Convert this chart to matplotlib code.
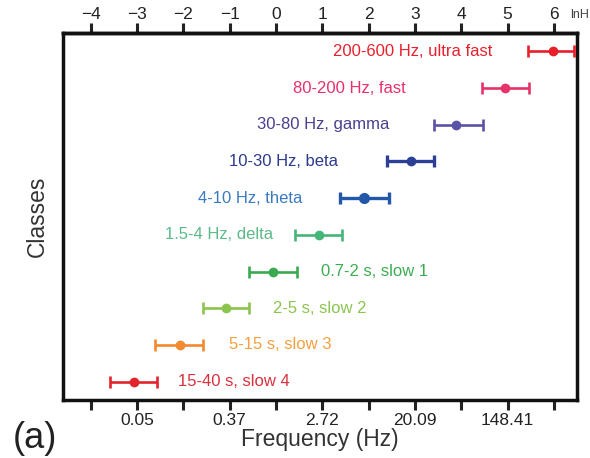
import numpy as np
import matplotlib
matplotlib.use("Agg")
import matplotlib.pyplot as plt

plt.rcParams['font.family'] = ['Liberation Sans', 'DejaVu Sans']

# Classes, bottom to top
labels = ["15-40 s, slow 4", "5-15 s, slow 3", "2-5 s, slow 2", "0.7-2 s, slow 1",
          "1.5-4 Hz, delta", "4-10 Hz, theta", "10-30 Hz, beta", "30-80 Hz, gamma",
          "80-200 Hz, fast", "200-600 Hz, ultra fast"]
# values in ln(Hz)
centers = [-3.07, -2.07, -1.08, -0.06, 0.93, 1.90, 2.92, 3.89, 4.95, 5.98]
lows    = [-3.59, -2.61, -1.58, -0.58, 0.41, 1.38, 2.40, 3.41, 4.45, 5.44]
highs   = [-2.57, -1.58, -0.58, 0.45, 1.43, 2.44, 3.41, 4.47, 5.46, 6.44]
colors  = ["#e2242c", "#f28a30", "#8cc44e", "#3aaa52", "#45b578", "#2358a8",
           "#2c3f96", "#5a52a6", "#e6336a", "#e8202c"]
text_colors = ["#d9303c", "#f2a040", "#8cc450", "#3cac52", "#5cba88", "#3a7ac0",
               "#2d3a8c", "#4a4090", "#e8306a", "#e8202c"]
# label anchor (ln units) and side
label_x = [-2.12, -1.01, -0.06, 0.97, -0.06, 0.56, 1.34, 2.44, 2.81, 4.67]
label_side = ["left", "left", "left", "left", "right", "right", "right", "right", "right", "right"]

ln_ticks = [-4, -3, -2, -1, 0, 1, 2, 3, 4, 5, 6]
freq_ticks = [-3, -1, 1, 3, 5]

fig = plt.figure(figsize=(5.9, 4.58), dpi=100)
ax = fig.add_axes([0.1068, 0.1266, 0.8712, 0.8014])

ypos = np.arange(1, len(labels) + 1)
for i in range(len(labels)):
    c = centers[i]
    ms = 7 if i == 5 else 6
    lw = 2.4 if i in (5, 6) else 1.9
    ax.errorbar([c], [ypos[i]], xerr=[[c - lows[i]], [highs[i] - c]],
                fmt='o', color=colors[i], ms=ms, elinewidth=lw, capsize=4.5,
                capthick=lw, clip_on=False, zorder=3)
    ax.text(label_x[i], ypos[i], labels[i], color=text_colors[i], fontsize=12,
            ha=label_side[i], va='center')

ax.set_xlim(-4.6, 6.5)
ax.set_ylim(0.5, 10.5)
ax.set_yticks([])
ax.set_ylabel("Classes", fontsize=16.5, color="#333333", labelpad=10)

ax.set_xticks(ln_ticks)
ax.set_xticklabels([f"{np.exp(t):.2f}" if t in freq_ticks else "" for t in ln_ticks])
ax.tick_params(axis='x', direction='out', length=7, width=2.2, labelsize=12.5,
               colors="#222222", pad=2)
ax.set_xlabel("Frequency (Hz)", fontsize=16.5, color="#333333", labelpad=0)

top = ax.secondary_xaxis('top')
top.set_xticks(ln_ticks)
top.set_xticklabels([f"{t}".replace("-", "\u2212") for t in ln_ticks])
top.tick_params(axis='x', direction='out', length=7, width=2.2, labelsize=12.5,
                colors="#222222", pad=1)
top.spines['top'].set_linewidth(2.5)

for s in ax.spines.values():
    s.set_linewidth(2.5)
    s.set_color("#111111")

fig.text(0.966, 0.967, "lnH", fontsize=9, color="#444444", ha='left', va='center')
fig.text(0.022, 0.005, "(a)", fontsize=26, color="#222222", ha='left', va='bottom')

fig.savefig("out.png", dpi=100)
